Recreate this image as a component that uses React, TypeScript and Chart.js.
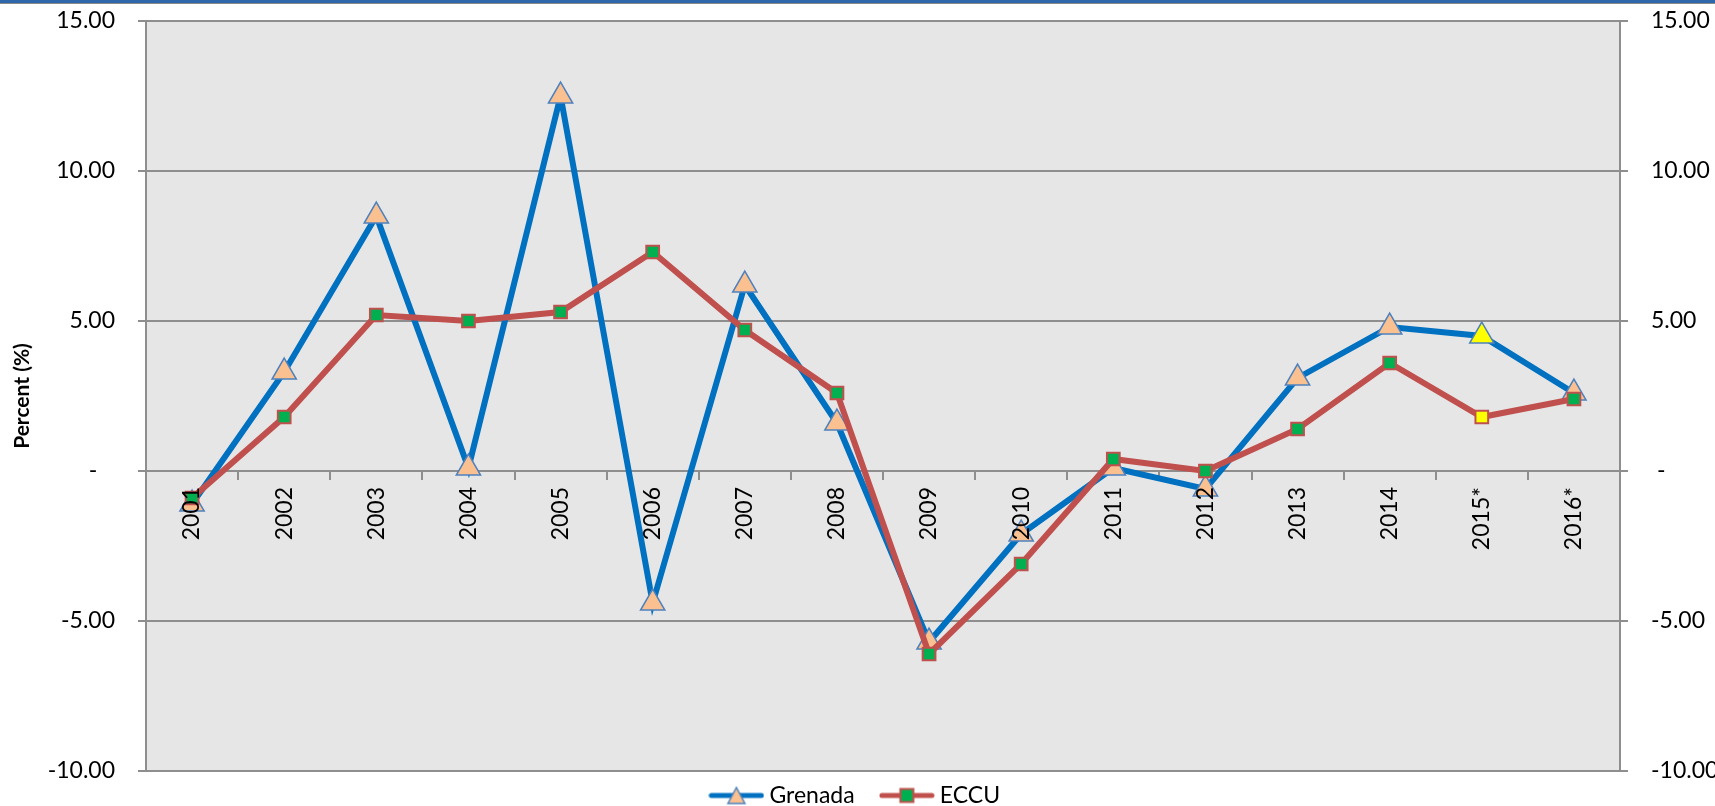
import React, { useEffect, useRef } from 'react';
import { Chart, registerables } from 'chart.js';

Chart.register(...registerables);

const categories = ['2001', '2002', '2003', '2004', '2005', '2006', '2007', '2008', '2009', '2010', '2011', '2012', '2013', '2014', '2015*', '2016*'];
const grenadaValues = [-1.1, 3.3, 8.5, 0.1, 12.5, -4.4, 6.2, 1.6, -5.7, -2.1, 0.1, -0.6, 3.1, 4.8, 4.5, 2.6];
const eccuValues = [-0.9, 1.8, 5.2, 5.0, 5.3, 7.3, 4.7, 2.6, -6.1, -3.1, 0.4, 0.0, 1.4, 3.6, 1.8, 2.4];
const seriesNames = ['Grenada', 'ECCU'];
const yTickLabels = ['-10.00', '-5.00', ' -   ', '5.00', '10.00', '15.00'];
const yAxisTitle = 'Percent (%)';
const highlightCategory = '2015*';

const FONT = 'Lato, "Open Sans", sans-serif';
const GRID = '#8e8e8e';
const BLUE = '#0070c0';
const RED = '#c0504d';
const PEACH = '#fac090';
const GREEN = '#00b050';
const YELLOW = '#ffff00';
const TRI_BORDER = '#4f81bd';

function legendSwatch(kind: 'tri' | 'sq'): HTMLCanvasElement {
  const c = document.createElement('canvas');
  c.width = 56;
  c.height = 20;
  const ctx = c.getContext('2d')!;
  ctx.lineCap = 'round';
  ctx.lineWidth = 5;
  ctx.strokeStyle = kind === 'tri' ? BLUE : RED;
  ctx.beginPath();
  ctx.moveTo(3, 10);
  ctx.lineTo(53, 10);
  ctx.stroke();
  if (kind === 'tri') {
    ctx.beginPath();
    ctx.moveTo(28, 2);
    ctx.lineTo(36.5, 18);
    ctx.lineTo(19.5, 18);
    ctx.closePath();
    ctx.fillStyle = PEACH;
    ctx.fill();
    ctx.lineWidth = 1.5;
    ctx.strokeStyle = TRI_BORDER;
    ctx.stroke();
  } else {
    ctx.fillStyle = GREEN;
    ctx.fillRect(21.5, 3.5, 13, 13);
    ctx.lineWidth = 2;
    ctx.strokeStyle = RED;
    ctx.strokeRect(21.5, 3.5, 13, 13);
  }
  return c;
}

const plotBg = {
  id: 'plotBg',
  beforeDraw(chart: any) {
    const { ctx, chartArea } = chart;
    ctx.save();
    ctx.fillStyle = '#e6e6e6';
    ctx.fillRect(chartArea.left, chartArea.top, chartArea.right - chartArea.left, chartArea.bottom - chartArea.top);
    ctx.restore();
  },
};

export default function App() {
  const canvasRef = useRef<HTMLCanvasElement | null>(null);

  useEffect(() => {
    document.body.style.margin = '0';
    const canvas = canvasRef.current;
    if (!canvas) return;
    const hi = categories.indexOf(highlightCategory);
    const tickFont = { family: FONT, size: 23 };
    const fitY = (w: number) => (s: any) => {
      s.width = w;
      s.paddingTop = 0;
      s.paddingBottom = 0;
    };

    const chart = new Chart(canvas, {
      type: 'line',
      data: {
        labels: categories,
        datasets: [
          {
            label: seriesNames[0],
            data: grenadaValues,
            order: 1,
            borderColor: BLUE,
            borderWidth: 6,
            tension: 0,
            pointStyle: 'triangle',
            pointRadius: 14,
            pointBorderWidth: 1.5,
            pointBorderColor: TRI_BORDER,
            pointBackgroundColor: categories.map((_, i) => (i === hi ? YELLOW : PEACH)),
          },
          {
            label: seriesNames[1],
            data: eccuValues,
            order: 0,
            borderColor: RED,
            borderWidth: 6,
            tension: 0,
            pointStyle: 'rect',
            pointRadius: 9,
            pointBorderWidth: 2,
            pointBorderColor: RED,
            pointBackgroundColor: categories.map((_, i) => (i === hi ? YELLOW : GREEN)),
          },
        ],
      },
      options: {
        responsive: false,
        animation: false,
        events: [],
        layout: { autoPadding: false, padding: { top: 21, left: 0, right: 0, bottom: 0 } },
        plugins: {
          tooltip: { enabled: false },
          legend: {
            position: 'bottom',
            maxHeight: 35,
            labels: {
              usePointStyle: true,
              pointStyleWidth: 43,
              padding: 13,
              color: '#000',
              font: { family: FONT, size: 23 },
              generateLabels: () => [
                { text: seriesNames[0] + '   ', pointStyle: legendSwatch('tri'), fillStyle: PEACH, strokeStyle: BLUE, lineWidth: 0, hidden: false, datasetIndex: 0, fontColor: '#000' },
                { text: seriesNames[1], pointStyle: legendSwatch('sq'), fillStyle: GREEN, strokeStyle: RED, lineWidth: 0, hidden: false, datasetIndex: 1, fontColor: '#000' },
              ] as any,
            },
          },
        },
        scales: {
          x: {
            type: 'category',
            offset: true,
            position: { y: 0 } as any,
            grid: { offset: true, drawOnChartArea: false, drawTicks: true, tickLength: 8, color: GRID, lineWidth: 2 },
            border: { display: true, color: GRID, width: 2 },
            ticks: { z: 1, autoSkip: false, minRotation: 90, maxRotation: 90, padding: 8, color: '#000', font: tickFont },
          },
          y: {
            position: 'left',
            min: -10,
            max: 15,
            ticks: { stepSize: 5, padding: 23, color: '#000', font: tickFont, callback: (_v: any, i: number) => yTickLabels[i] },
            grid: { color: GRID, lineWidth: 2, tickLength: 8, drawTicks: true },
            border: { color: GRID, width: 2 },
            title: { display: true, text: yAxisTitle, color: '#000', font: { family: FONT, size: 21, weight: 'bold' }, padding: { top: 10, bottom: 0 } },
            afterFit: fitY(146),
          },
          y2: {
            position: 'right',
            min: -10,
            max: 15,
            ticks: { stepSize: 5, padding: 23, color: '#000', font: tickFont, callback: (_v: any, i: number) => yTickLabels[i] },
            grid: { drawOnChartArea: false, color: GRID, lineWidth: 2, tickLength: 8, drawTicks: true },
            border: { color: GRID, width: 2 },
            afterFit: fitY(95),
          },
        },
      } as any,
      plugins: [plotBg],
    });
    return () => chart.destroy();
  }, []);

  return (
    <div style={{ position: 'relative', width: 1715, height: 806, background: '#fff', overflow: 'hidden' }}>
      <canvas ref={canvasRef} width={1715} height={806} style={{ display: 'block' }} />
      <div style={{ position: 'absolute', left: 0, top: 0, width: 1715, height: 3, background: '#2d67a9', borderBottom: '1px solid #8a8a8a' }} />
    </div>
  );
}
